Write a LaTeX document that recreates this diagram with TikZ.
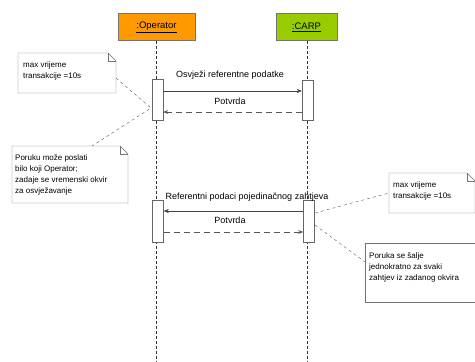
\documentclass[tikz,border=0pt]{standalone}
\usepackage{fontspec}
\setmainfont{Liberation Sans}
\usetikzlibrary{arrows.meta}
\definecolor{oporange}{RGB}{255,153,0}
\definecolor{cagreen}{RGB}{153,204,0}
\begin{document}
\begin{tikzpicture}[x=1pt,y=-1pt,
  lbl/.style={font=\fontsize{9}{10}\selectfont, inner sep=0pt},
  notetxt/.style={font=\fontsize{8}{11}\selectfont, align=left, inner sep=0pt, anchor=north west},
  head/.style={draw=black!55, minimum height=27pt, font=\fontsize{9.5}{10}\selectfont},
  life/.style={densely dashed, line width=0.8pt, black!80},
  actbox/.style={draw=black!60, fill=white, minimum width=11pt, inner sep=0pt},
  msg/.style={-{Stealth[length=5pt,width=4pt]}, black!75},
  ret/.style={-{Stealth[length=5pt,width=4pt]}, dashed, dash pattern=on 6pt off 4pt, black!65, line width=0.8pt},
  link/.style={dashed, black!65},
  notebox/.style={draw=black!55, fill=white}]
\useasboundingbox (0,0) rectangle (475,362);
% headers
\node[head, fill=oporange, minimum width=77pt] (op) at (156.5,27) {\underline{:Operator}};
\node[head, fill=cagreen, minimum width=61pt] (ca) at (306.5,27) {\underline{:CARP}};
% lifelines
\coordinate (opend) at (156.5,362);
\coordinate (caend) at (307.5,362);
\draw[life] (op.south) -- (opend);
\draw[life] (ca.south -| caend) -- (caend);
% activations
\node[actbox, minimum height=41pt] (a1) at (157.5,99.5) {};
\node[actbox, minimum height=40pt] (b1) at (307.5,100) {};
\node[actbox, minimum height=42pt] (a2) at (158,221) {};
\node[actbox, minimum height=42pt] (b2) at (309,221) {};
% messages
\coordinate (m1s) at (a1.east |- 0,91);
\coordinate (m1e) at (b1.west |- 0,91);
\draw[msg] (m1s) -- (m1e);
\node[lbl] (t1) at (230,75) {Osvježi referentne podatke};
\coordinate (r1s) at (b1.west |- 0,112);
\coordinate (r1e) at (a1.east |- 0,112);
\draw[ret] (r1s) -- (r1e);
\node[lbl] (t2) at (230,101) {Potvrda};
\coordinate (m2s) at (b2.west |- 0,211);
\coordinate (m2e) at (a2.east |- 0,211);
\draw[msg] (m2s) -- (m2e);
\node[lbl] (t3) at (247,197) {Referentni podaci pojedinačnog zahtjeva};
\coordinate (r2s) at (a2.east |- 0,232);
\coordinate (r2e) at (b2.west |- 0,232);
\draw[ret] (r2s) -- (r2e);
\node[lbl] (t4) at (230,220) {Potvrda};
% notes
\draw[notebox] (18,53) -- (108,53) -- (116,61) -- (116,93) -- (18,93) -- cycle;
\draw[black!55] (108,53) -- (108,61) -- (116,61);
\node[notetxt] (n1) at (23,62) {max vrijeme\\transakcije =10s};
\draw[notebox] (12,146) -- (120,146) -- (128,154) -- (128,203) -- (12,203) -- cycle;
\draw[black!55] (120,146) -- (120,154) -- (128,154);
\node[notetxt] (n2) at (15,154) {Poruku može poslati\\bilo koji Operator;\\zadaje se vremenski okvir\\za osvježavanje};
\draw[notebox] (389,173) -- (467,173) -- (475,181) -- (475,213) -- (389,213) -- cycle;
\draw[black!55] (467,173) -- (467,181) -- (475,181);
\node[notetxt] (n3) at (393,182) {max vrijeme\\transakcije =10s};
\draw[notebox] (365,243) -- (480,243) -- (480,302) -- (365,302) -- cycle;
\node[notetxt] (n4) at (369,252) {Poruka se šalje\\jednokratno za svaki\\zahtjev iz zadanog okvira};
% links
\coordinate (p1) at (151,108);
\coordinate (n1r) at (116,78);
\coordinate (n2t) at (92,146);
\draw[link] (n1r) -- (p1) -- (n2t);
\coordinate (p2) at (315,213);
\coordinate (n3l) at (389,193);
\draw[link] (p2) -- (n3l);
\coordinate (p3) at (315,225);
\coordinate (n4l) at (365,262);
\draw[link] (p3) -- (n4l);
\end{tikzpicture}
\end{document}
